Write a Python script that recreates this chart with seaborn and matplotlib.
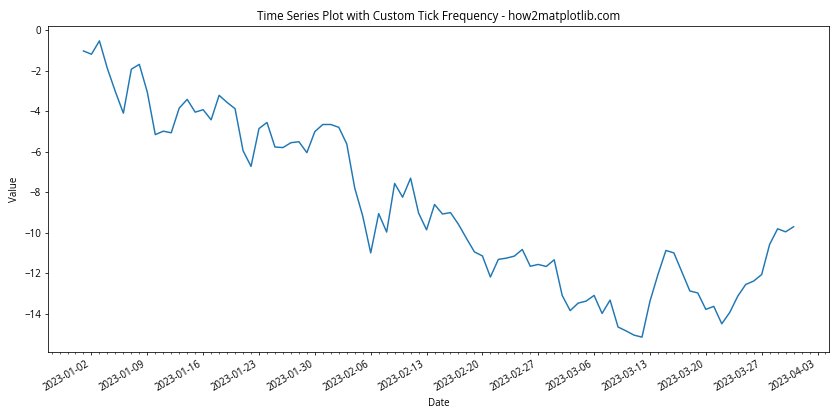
import matplotlib
matplotlib.use("Agg")
import matplotlib.pyplot as plt
import matplotlib.dates as mdates
import numpy as np
import pandas as pd
import seaborn as sns

start_date = "2023-01-01"
n_days = 90
values = [
    -1.03, -1.19, -0.53, -1.90, -3.04, -4.10, -1.93, -1.69, -3.06, -5.16,
    -4.99, -5.07, -3.85, -3.42, -4.05, -3.93, -4.43, -3.22, -3.57, -3.88,
    -5.95, -6.73, -4.86, -4.56, -5.77, -5.80, -5.56, -5.51, -6.05, -5.01,
    -4.66, -4.66, -4.80, -5.62, -7.80, -9.18, -11.00, -9.06, -9.97, -7.57,
    -8.25, -7.31, -9.03, -9.86, -8.61, -9.08, -9.01, -9.59, -10.28, -10.95,
    -11.15, -12.19, -11.32, -11.26, -11.16, -10.83, -11.66, -11.57, -11.67, -11.34,
    -13.10, -13.85, -13.48, -13.38, -13.10, -13.99, -13.33, -14.66, -14.85, -15.06,
    -15.16, -13.39, -12.07, -10.88, -11.00, -11.94, -12.88, -12.98, -13.79, -13.64,
    -14.50, -13.94, -13.14, -12.56, -12.39, -12.07, -10.58, -9.81, -9.96, -9.71,
]
title = "Time Series Plot with Custom Tick Frequency - how2matplotlib.com"
xlabel = "Date"
ylabel = "Value"

dates = pd.date_range(start_date, periods=n_days, freq="D")
df = pd.DataFrame({"Date": dates, "Value": values})

plt.rcParams["font.family"] = ["Open Sans", "DejaVu Sans"]
plt.rcParams["font.size"] = 10

fig, ax = plt.subplots(figsize=(12, 6), dpi=70)
sns.lineplot(data=df, x="Date", y="Value", ax=ax, color="#1f77b4", linewidth=1.5)

ax.xaxis.set_major_locator(mdates.WeekdayLocator(byweekday=mdates.MO))
ax.xaxis.set_minor_locator(mdates.DayLocator())
ax.xaxis.set_major_formatter(mdates.DateFormatter("%Y-%m-%d"))

ax.set_title(title, fontsize=12)
ax.set_xlabel(xlabel)
ax.set_ylabel(ylabel)

fig.autofmt_xdate()
fig.subplots_adjust(left=0.0571, right=0.987, top=0.938, bottom=0.162)
fig.savefig("out.png", dpi=70)
